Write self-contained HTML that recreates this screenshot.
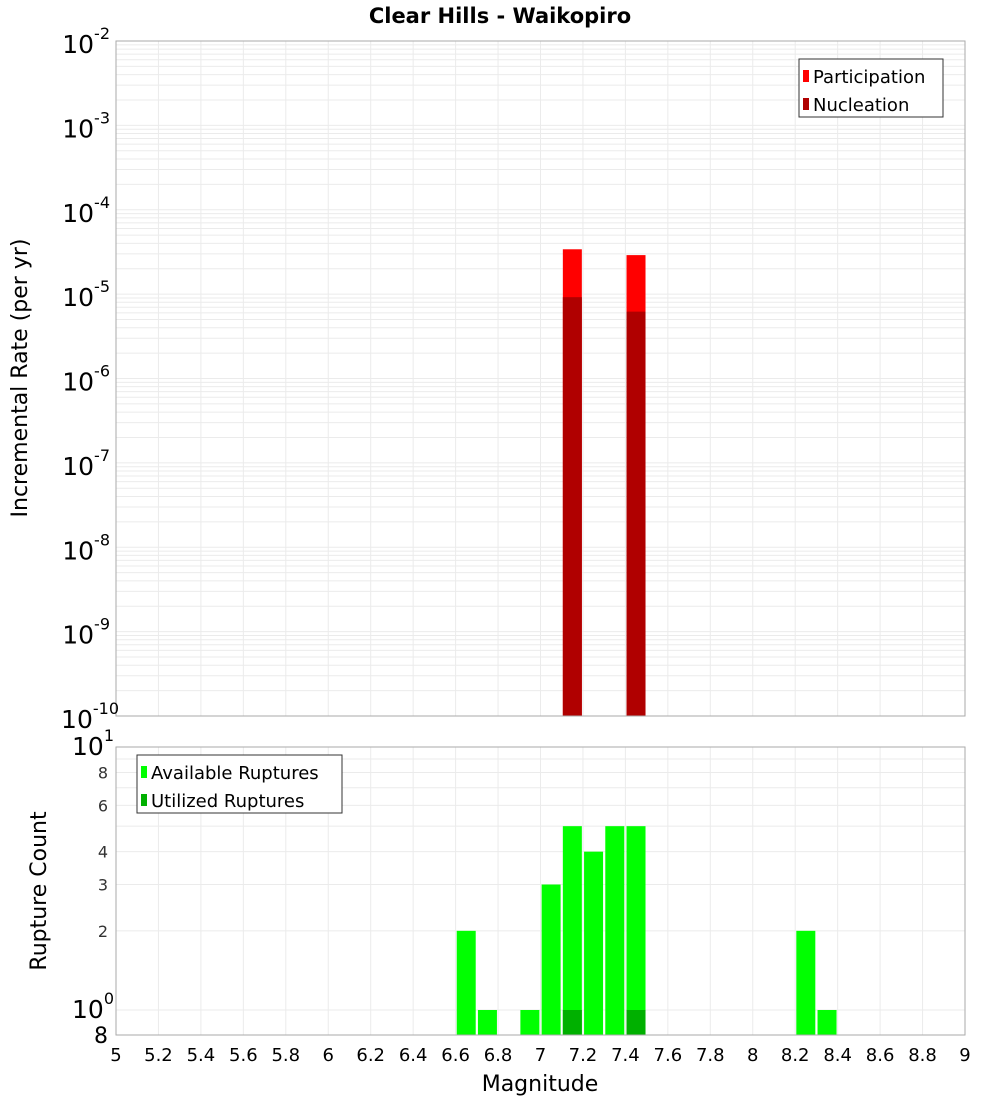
<!DOCTYPE html>
<html><head><meta charset="utf-8"><style>
body{margin:0;background:#fff;font-family:"DejaVu Sans","Liberation Sans",sans-serif}
</style></head><body>
<svg id="c" width="1000" height="1100" xmlns="http://www.w3.org/2000/svg"></svg>
<script>
const topMags=[7.15,7.45];
const participation=[3.4e-5,2.9e-5];
const nucleation=[9.2e-6,6.2e-6];
const botMags=[6.65,6.75,6.95,7.05,7.15,7.25,7.35,7.45,8.25,8.35];
const available=[2,1,1,3,5,4,5,5,2,1];
const utilMags=[7.15,7.45];
const utilized=[1,1];
const xTicks=["5","5.2","5.4","5.6","5.8","6","6.2","6.4","6.6","6.8","7","7.2","7.4","7.6","7.8","8","8.2","8.4","8.6","8.8","9"];
const topExp=[-2,-3,-4,-5,-6,-7,-8,-9,-10];
const botTickVals=[8,6,4,3,2];

const svg=document.getElementById('c');const NS='http://www.w3.org/2000/svg';
function el(t,a,p){const e=document.createElementNS(NS,t);for(const k in a)e.setAttribute(k,a[k]);(p||svg).appendChild(e);return e;}
const L=116,R=965;
const X=m=>L+(m-5)/4*(R-L);
const T0=41,T1=716;
const Yt=v=>T0+(-2-Math.log10(v))/8*(T1-T0);
const B0=747,B1=1035;
const dec=(1010-B0);
const Yb=v=>1010-Math.log10(v)*dec;

let t=el('text',{x:500,y:23,'text-anchor':'middle','font-size':21,'font-weight':'bold'});t.textContent='Clear Hills - Waikopiro';


// top grid
const tg=el('g',{stroke:'#ebebeb','stroke-width':1});

for(let e=-10;e<-2;e++)for(let k=1;k<10;k++){const y=Yt(k*Math.pow(10,e));el('line',{x1:L,x2:R,y1:y,y2:y},tg);}
for(let i=0;i<=20;i++){const x=X(5+i*0.2);el('line',{x1:x,x2:x,y1:T0,y2:T1},tg);}
// bottom grid
const bg=el('g',{stroke:'#ebebeb','stroke-width':1});

for(let k=1;k<=10;k++){const y=Yb(k);el('line',{x1:L,x2:R,y1:y,y2:y},bg);}
for(let i=0;i<=20;i++){const x=X(5+i*0.2);el('line',{x1:x,x2:x,y1:B0,y2:B1},bg);}

// top bars
const bw=19;
topMags.forEach((m,i)=>{
 let r=el('rect',{x:X(m)-bw/2,y:Yt(participation[i]),width:bw,height:T1-Yt(participation[i]),fill:'#ff0000'});
 
 r=el('rect',{x:X(m)-bw/2,y:Yt(nucleation[i]),width:bw,height:T1-Yt(nucleation[i]),fill:'#b00000'});
 
});
botMags.forEach((m,i)=>{
 let r=el('rect',{x:X(m)-bw/2,y:Yb(available[i]),width:bw,height:B1-Yb(available[i]),fill:'#00ff00'});
 
});
utilMags.forEach((m,i)=>{
 let r=el('rect',{x:X(m)-bw/2,y:Yb(utilized[i]),width:bw,height:B1-Yb(utilized[i]),fill:'#00b000'});
 
});
// frames
let f=el('rect',{x:L,y:T0,width:R-L,height:T1-T0,fill:'none',stroke:'#aaa'});

f=el('rect',{x:L,y:B0,width:R-L,height:B1-B0,fill:'none',stroke:'#aaa'});


// top y ticks
topExp.forEach(e=>{const y=Yt(Math.pow(10,e));
 const g=el('text',{x:110,y:y+12,'text-anchor':'end','font-size':25});
 
 g.innerHTML='10<tspan dy="-14" font-size="16">'+e+'</tspan>';
 g.setAttribute('transform','translate('+(String(e).length*9-18)+',0)');
});
// bottom y ticks
let g=el('text',{x:72,y:Yb(10)+8,'font-size':25});g.innerHTML='10<tspan dy="-14" font-size="16">1</tspan>';

g=el('text',{x:72,y:Yb(1)+8,'font-size':25});g.innerHTML='10<tspan dy="-14" font-size="16">0</tspan>';

g=el('text',{x:94,y:B1+8,'font-size':22});g.textContent='8';

botTickVals.forEach(v=>{const q=el('text',{x:108,y:Yb(v)+6,'text-anchor':'end','font-size':16,fill:'#333'});q.textContent=v;
 });
// x ticks
xTicks.forEach((s,i)=>{const q=el('text',{x:X(5+i*0.2),y:1061,'text-anchor':'middle','font-size':18});q.textContent=s;
 });
g=el('text',{x:540,y:1091,'text-anchor':'middle','font-size':22});g.textContent='Magnitude';

g=el('text',{x:0,y:0,'text-anchor':'middle','font-size':22,transform:'translate(27,378) rotate(-90)'});g.textContent='Incremental Rate (per yr)';

g=el('text',{x:0,y:0,'text-anchor':'middle','font-size':22,transform:'translate(46,891) rotate(-90)'});g.textContent='Rupture Count';


// legends
function legend(x,y,w,h,items,name){
 const lg=el('g',{});
 el('rect',{x:x,y:y,width:w,height:h,fill:'#fff',stroke:'#333'},lg);
 items.forEach((it,i)=>{el('rect',{x:x+4,y:y+11+i*28,width:6,height:12,fill:it[1]},lg);
  const q=el('text',{x:x+14,y:y+24+i*28,'font-size':18},lg);q.textContent=it[0];});
}
legend(799,59,144,58,[['Participation','#ff0000'],['Nucleation','#b00000']],'top-legend');
legend(137,755,205,58,[['Available Ruptures','#00ff00'],['Utilized Ruptures','#00b000']],'bottom-legend');
</script>
</body></html>
